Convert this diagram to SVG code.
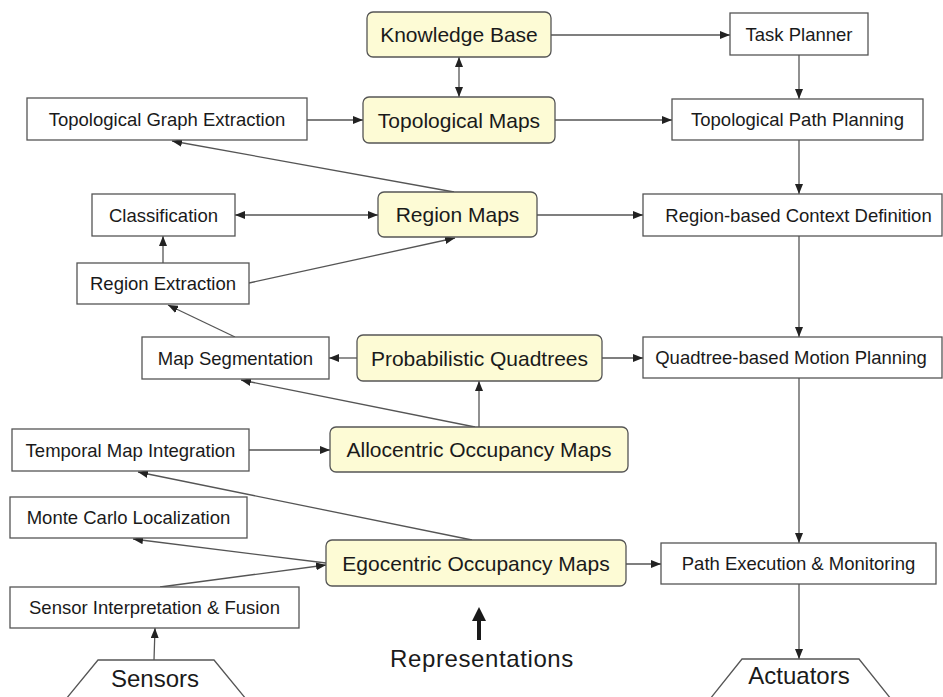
<svg xmlns="http://www.w3.org/2000/svg" width="943" height="697" viewBox="0 0 943 697">
<style>
.box{fill:#fff;stroke:#555;stroke-width:1.3}
.rep{fill:#fdfbd5;stroke:#555;stroke-width:1.3}
.t{font-family:"Liberation Sans",Arial,sans-serif;font-size:18.5px;fill:#1a1a1a;text-anchor:middle}
.ty{font-family:"Liberation Sans",Arial,sans-serif;font-size:21px;fill:#1a1a1a;text-anchor:middle}
.tb{font-family:"Liberation Sans",Arial,sans-serif;font-size:24px;fill:#1a1a1a;text-anchor:middle}
.c{fill:none;stroke:#555;stroke-width:1.3}
.ce{marker-end:url(#ah)}
.cb{marker-end:url(#ah);marker-start:url(#ah)}
</style>
<defs>
<marker id="ah" viewBox="0 0 10 8" refX="10" refY="4" markerWidth="10" markerHeight="8" markerUnits="userSpaceOnUse" orient="auto-start-reverse">
<path d="M0,0 L10,4 L0,8 z" fill="#222"/>
</marker>
</defs>
<rect width="943" height="697" fill="#fff"/>
<g id="connectors">
<line class="c ce" x1="551" y1="35" x2="730" y2="35"/>
<line class="c cb" x1="459" y1="57" x2="459" y2="97"/>
<line class="c ce" x1="799" y1="55" x2="799" y2="99"/>
<line class="c ce" x1="799" y1="140" x2="799" y2="194"/>
<line class="c ce" x1="307" y1="120" x2="363" y2="120"/>
<line class="c ce" x1="555" y1="120" x2="672" y2="120"/>
<line class="c ce" x1="454" y1="192" x2="172" y2="141"/>
<line class="c cb" x1="235" y1="215" x2="378" y2="215"/>
<line class="c ce" x1="537" y1="215" x2="643" y2="215"/>
<line class="c ce" x1="163" y1="263" x2="163" y2="236"/>
<line class="c ce" x1="249" y1="283" x2="455" y2="238"/>
<line class="c ce" x1="235" y1="337" x2="168" y2="305"/>
<line class="c ce" x1="357" y1="358" x2="329" y2="358"/>
<line class="c ce" x1="602" y1="358" x2="643" y2="358"/>
<line class="c ce" x1="799" y1="236" x2="799" y2="337"/>
<line class="c ce" x1="479" y1="427" x2="479" y2="381"/>
<line class="c ce" x1="475" y1="427" x2="241" y2="380"/>
<line class="c ce" x1="249" y1="450" x2="330" y2="450"/>
<line class="c ce" x1="472" y1="540" x2="138" y2="472"/>
<line class="c ce" x1="326" y1="563" x2="133" y2="539"/>
<line class="c ce" x1="160" y1="587" x2="326" y2="565"/>
<line class="c ce" x1="626" y1="564" x2="661" y2="564"/>
<line class="c ce" x1="799" y1="378" x2="799" y2="543"/>
<line class="c ce" x1="799" y1="584" x2="799" y2="659"/>
<line class="c ce" x1="154" y1="660" x2="155" y2="628"/>
</g>
<g id="knowledge-base"><rect class="rep" x="367" y="12" width="184" height="45" rx="6"/><text class="ty" x="459" y="42">Knowledge Base</text></g>
<g id="task-planner"><rect class="box" x="730" y="13" width="138" height="42"/><text class="t" x="799" y="40.5">Task Planner</text></g>
<g id="topological-graph-extraction"><rect class="box" x="27" y="98" width="280" height="42"/><text class="t" x="167" y="125.5">Topological Graph Extraction</text></g>
<g id="topological-maps"><rect class="rep" x="363" y="97" width="192" height="46" rx="6"/><text class="ty" x="459" y="127.5">Topological Maps</text></g>
<g id="topological-path-planning"><rect class="box" x="672" y="99" width="251" height="41"/><text class="t" x="797.5" y="126">Topological Path Planning</text></g>
<g id="classification"><rect class="box" x="92" y="194" width="143" height="42"/><text class="t" x="163.5" y="221.5">Classification</text></g>
<g id="region-maps"><rect class="rep" x="378" y="192" width="159" height="45" rx="6"/><text class="ty" x="457.5" y="222">Region Maps</text></g>
<g id="region-based-context-definition"><rect class="box" x="643" y="194" width="299" height="42"/><text class="t" x="798.5" y="221.5">Region-based Context Definition</text></g>
<g id="region-extraction"><rect class="box" x="77" y="263" width="172" height="41"/><text class="t" x="163" y="290">Region Extraction</text></g>
<g id="map-segmentation"><rect class="box" x="142" y="337" width="187" height="42"/><text class="t" x="235.5" y="364.5">Map Segmentation</text></g>
<g id="probabilistic-quadtrees"><rect class="rep" x="357" y="335" width="245" height="46" rx="6"/><text class="ty" x="479.5" y="365.5">Probabilistic Quadtrees</text></g>
<g id="quadtree-based-motion-planning"><rect class="box" x="643" y="337" width="299" height="41"/><text class="t" x="791" y="364">Quadtree-based Motion Planning</text></g>
<g id="temporal-map-integration"><rect class="box" x="12" y="429" width="237" height="42"/><text class="t" x="130.5" y="456.5">Temporal Map Integration</text></g>
<g id="allocentric-occupancy-maps"><rect class="rep" x="330" y="427" width="298" height="45" rx="6"/><text class="ty" x="479" y="457">Allocentric Occupancy Maps</text></g>
<g id="monte-carlo-localization"><rect class="box" x="10" y="497" width="237" height="41"/><text class="t" x="128.5" y="524">Monte Carlo Localization</text></g>
<g id="egocentric-occupancy-maps"><rect class="rep" x="326" y="540" width="300" height="46" rx="6"/><text class="ty" x="476" y="570.5">Egocentric Occupancy Maps</text></g>
<g id="path-execution-monitoring"><rect class="box" x="661" y="543" width="275" height="41"/><text class="t" x="798.5" y="570">Path Execution &amp; Monitoring</text></g>
<g id="sensor-interpretation-fusion"><rect class="box" x="10" y="587" width="289" height="41"/><text class="t" x="154.5" y="614">Sensor Interpretation &amp; Fusion</text></g>
<g id="sensors"><path d="M66,699 L98,660 L214,660 L246,699" fill="#fff" stroke="#555" stroke-width="1.3"/><text class="tb" x="155" y="687">Sensors</text></g>
<g id="actuators"><path d="M710,699 L742,659 L859,659 L891,699" fill="#fff" stroke="#555" stroke-width="1.3"/><text class="tb" x="799" y="684">Actuators</text></g>
<g id="representations">
<line x1="479" y1="640" x2="479" y2="618" stroke="#1a1a1a" stroke-width="4"/>
<path d="M472,621 L479,607 L486,621 z" fill="#1a1a1a"/>
<text class="tb" x="482" y="667" letter-spacing="0.6">Representations</text>
</g>
</svg>
